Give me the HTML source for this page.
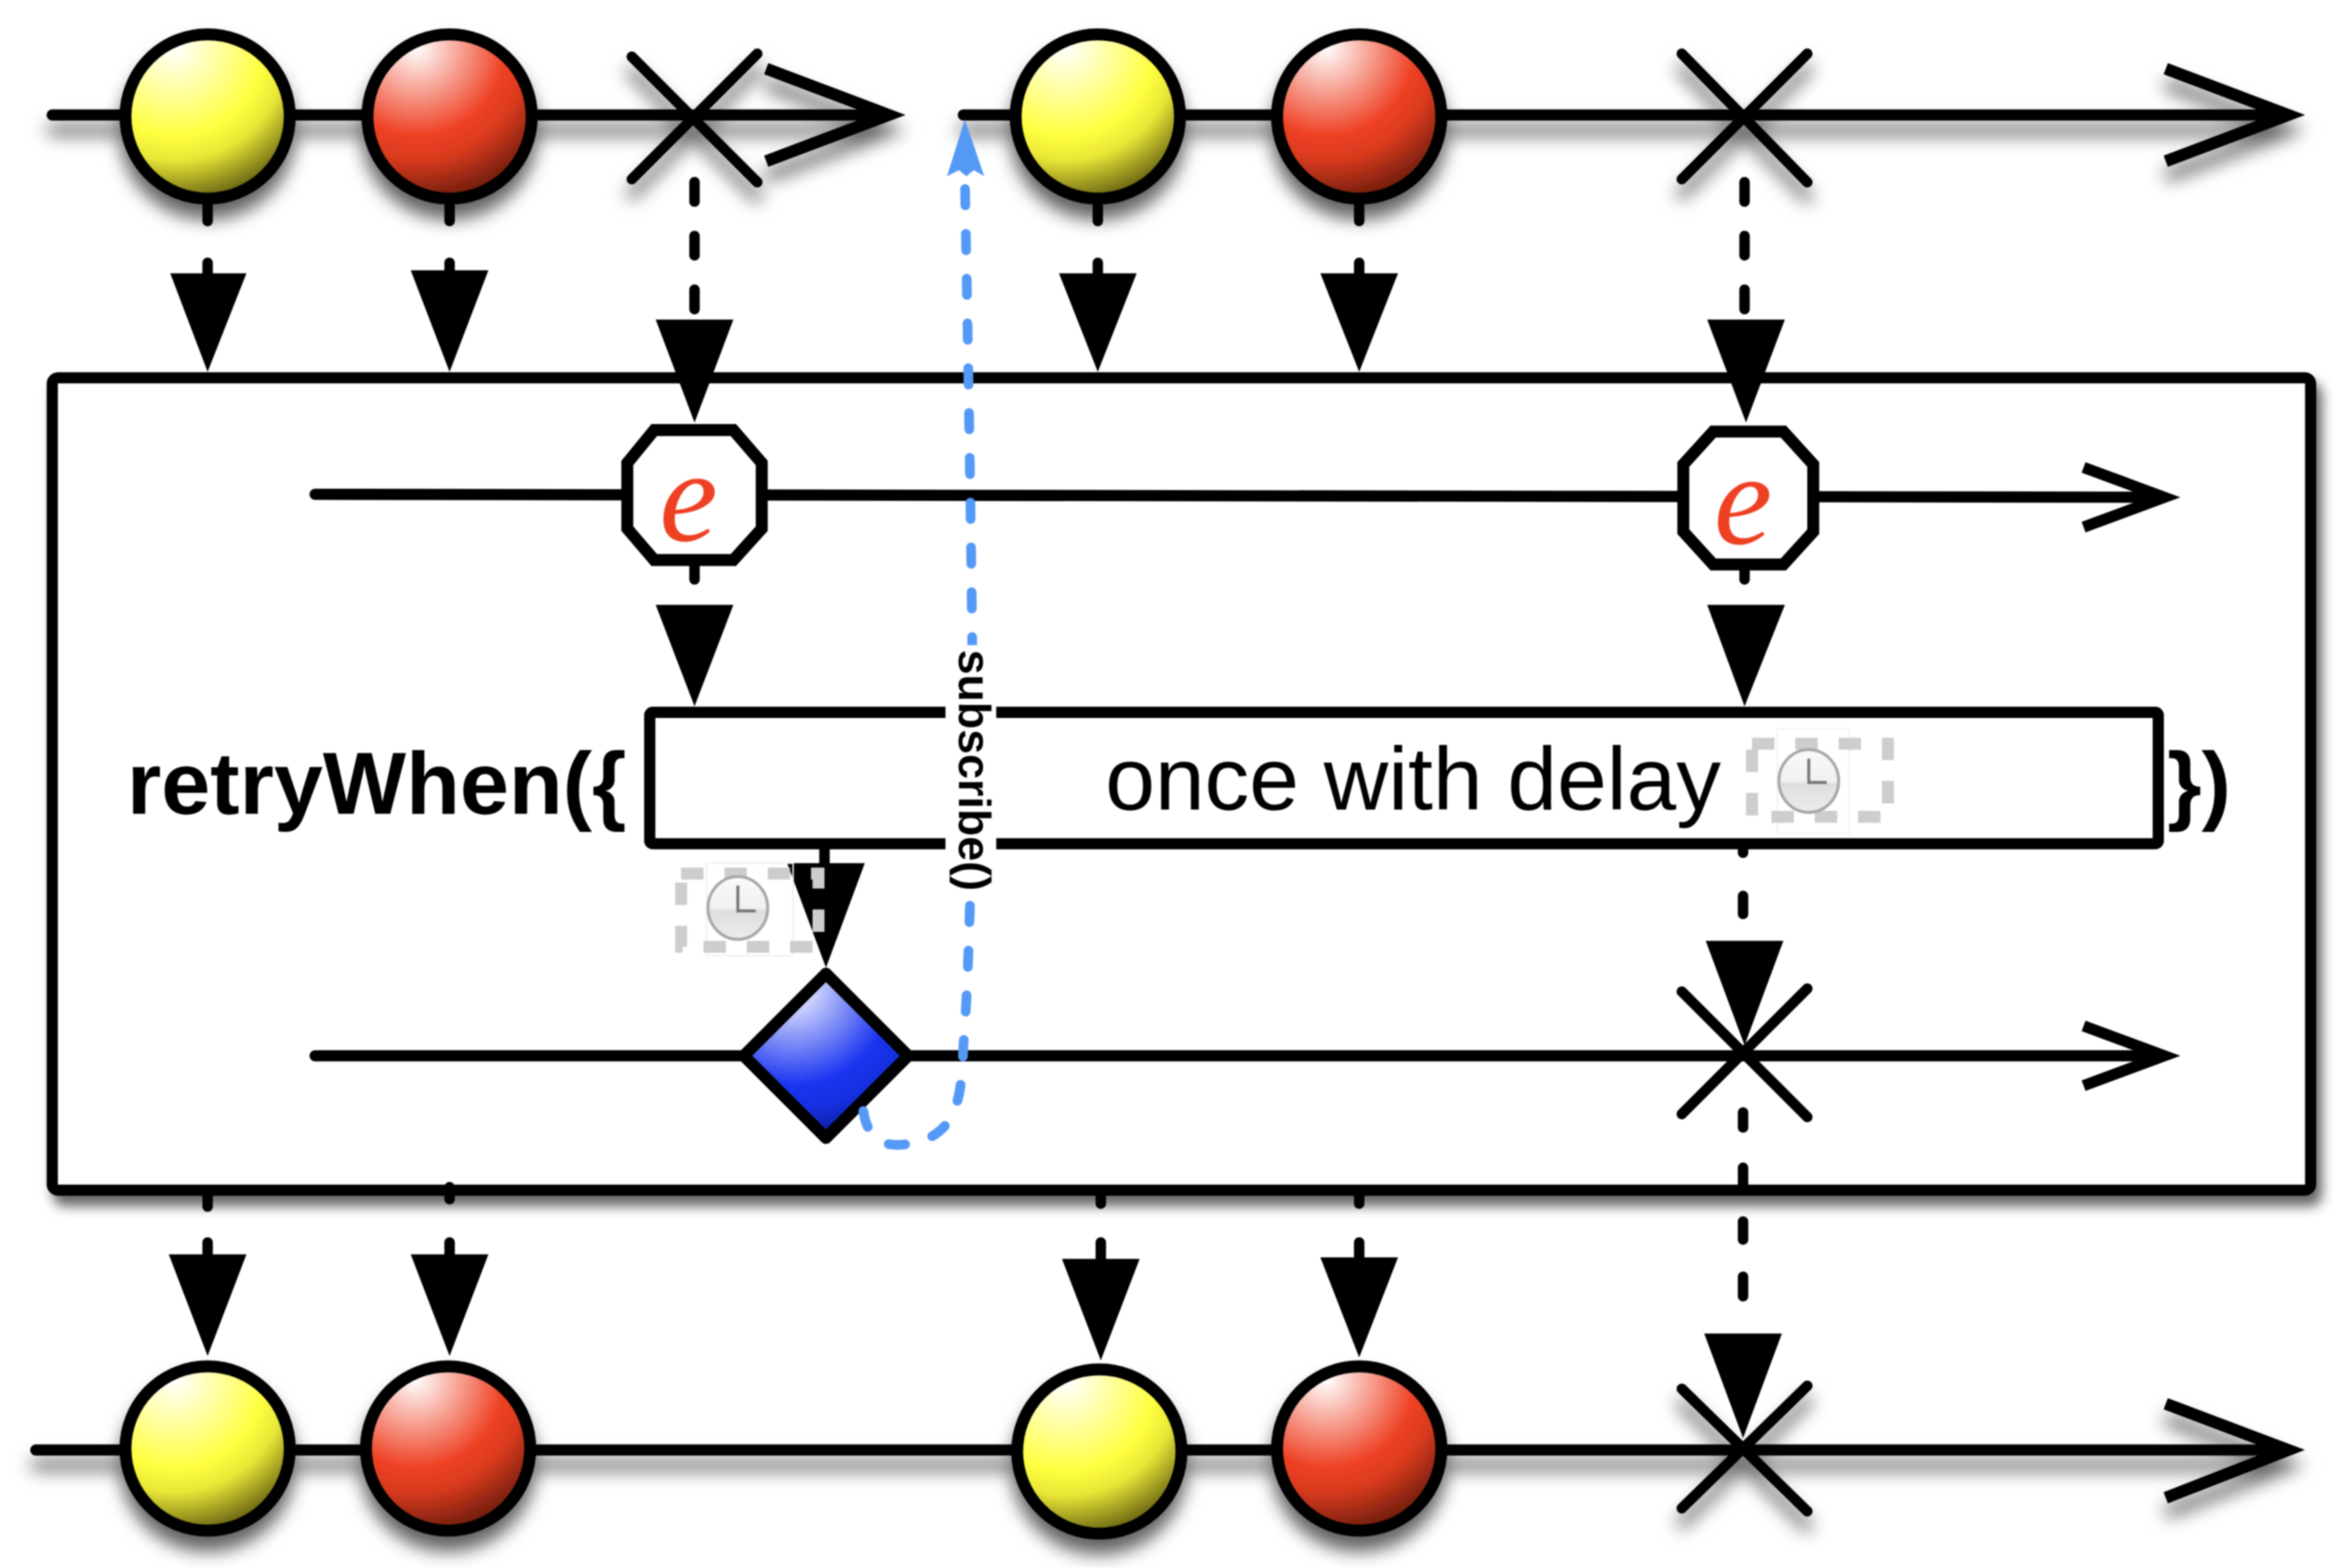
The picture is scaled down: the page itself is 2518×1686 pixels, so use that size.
<!DOCTYPE html>
<html><head><meta charset="utf-8"><title>retryWhen</title>
<style>html,body{margin:0;padding:0;background:#fff;width:2518px;height:1686px;overflow:hidden}
svg{display:block;filter:blur(.7px)}
text{font-family:"Liberation Sans",sans-serif}</style></head><body>
<svg xmlns="http://www.w3.org/2000/svg" width="2518" height="1686" viewBox="0 0 1568 1050" preserveAspectRatio="none">
<defs>
<filter id="sh" x="-20%" y="-40%" width="140%" height="200%"><feDropShadow dx="0" dy="10" stdDeviation="6" flood-color="#000" flood-opacity=".62"/></filter>
<filter id="sb" x="-5%" y="-5%" width="110%" height="110%"><feDropShadow dx="4" dy="7" stdDeviation="4" flood-color="#000" flood-opacity=".6"/></filter>
<radialGradient id="y" cx=".3" cy=".08" r=".98"><stop offset="0" stop-color="#fff"/><stop offset=".55" stop-color="#ffff40"/><stop offset=".7" stop-color="#e8e636"/><stop offset="1" stop-color="#55500e"/></radialGradient>
<radialGradient id="r" cx=".3" cy=".08" r=".98"><stop offset="0" stop-color="#fff"/><stop offset=".55" stop-color="#ee4124"/><stop offset=".7" stop-color="#d83a1e"/><stop offset="1" stop-color="#5e180a"/></radialGradient>
<radialGradient id="b" cx=".3" cy=".08" r="1"><stop offset="0" stop-color="#fff"/><stop offset=".6" stop-color="#1a34f0"/><stop offset=".75" stop-color="#1530e0"/><stop offset="1" stop-color="#061480"/></radialGradient>
<linearGradient id="c" x1="0" y1="0" x2="0" y2="1"><stop offset="0" stop-color="#fafafa"/><stop offset=".5" stop-color="#f0f0f0"/><stop offset=".55" stop-color="#dedede"/><stop offset="1" stop-color="#ececec"/></linearGradient>
</defs>

<!-- box -->
<rect x="35" y="253" width="1512" height="544" rx="4" fill="#fff" stroke="#000" stroke-width="7.5" filter="url(#sb)"/>

<!-- top timelines -->
<g filter="url(#sh)" fill="none" stroke="#000" stroke-width="7.5" stroke-linecap="round">
<path d="M35 77H592"/>
<path d="M513 46L595 77L513 108" stroke-linecap="butt" stroke-width="8"/>
<path d="M423 38L507 122M507 36L423 120" stroke-width="7"/>
<path d="M645 77H1530"/>
<path d="M1450 46L1532 77L1450 108" stroke-linecap="butt" stroke-width="8"/>
<path d="M1126 36L1210 122M1210 36L1126 120" stroke-width="7"/>
<circle cx="139" cy="78" r="55" fill="url(#y)" stroke-width="8"/><circle cx="301" cy="78" r="55" fill="url(#r)" stroke-width="8"/>
<circle cx="735" cy="78" r="55" fill="url(#y)" stroke-width="8"/><circle cx="910" cy="78" r="55" fill="url(#r)" stroke-width="8"/>
</g>

<!-- bottom timeline -->
<g filter="url(#sh)" fill="none" stroke="#000" stroke-width="7.5" stroke-linecap="round">
<path d="M24 971H1530"/>
<path d="M1450 940L1532 971L1450 1003" stroke-linecap="butt" stroke-width="8"/>
<path d="M1126 930L1210 1012M1210 928L1126 1010" stroke-width="7"/>
<circle cx="139" cy="970" r="55" fill="url(#y)" stroke-width="8"/><circle cx="300" cy="970" r="55" fill="url(#r)" stroke-width="8"/>
<circle cx="736" cy="972" r="55" fill="url(#y)" stroke-width="8"/><circle cx="910" cy="970" r="55" fill="url(#r)" stroke-width="8"/>
</g>

<!-- black dashes and triangles -->
<g fill="none" stroke="#000" stroke-width="7" stroke-linecap="round">
<path d="M139 138V148M139 176V186M301 138V148M301 176V186M735 138V148M735 176V186M910 138V148M910 176V186"/>
<path d="M465 122V135M465 158V171M465 194V207M1168 122V135M1168 158V171M1168 194V207"/>
<path d="M465 378V388M1168 378V388"/>
<path d="M552 566V580"/>
<path d="M1167 568V571M1167 600V612M1167 745V755M1167 782V794M1167 818V830M1167 855V868"/>
<path d="M139 800V808M139 832V845M301 795V803M301 832V845M737 798V806M737 832V845M910 798V806M910 832V845"/>
</g>
<g fill="#000">
<path d="M114 183H165L139 249Z"/><path d="M275 181H327L301 249Z"/><path d="M709 183H761L735 249Z"/><path d="M884 183H936L910 249Z"/>
<path d="M439 214H491L465 283Z"/><path d="M1143 214H1195L1169 283Z"/>
<path d="M439 405H491L465 473Z"/><path d="M1143 405H1195L1168 473Z"/>
<path d="M527 578H579L553 648Z"/>
<path d="M1142 630H1194L1168 700Z"/>
<path d="M113 840H165L139 908Z"/><path d="M275 840H327L301 908Z"/><path d="M711 843H763L737 911Z"/><path d="M884 842H936L910 909Z"/><path d="M1141 893H1193L1167 963Z"/>
</g>

<!-- inner timelines -->
<g fill="none" stroke="#000" stroke-width="7.5" stroke-linecap="round">
<path d="M211 331L1445 333"/>
<path d="M1395 313L1449 333L1395 353" stroke-linecap="butt"/>
<path d="M211 707H1445"/>
<path d="M1395 687L1449 707L1395 727" stroke-linecap="butt"/>
<path d="M1126 664L1210 748M1210 662L1126 746" stroke-width="7"/>
</g>

<!-- operator box -->
<rect x="435" y="477" width="1010" height="88" rx="2" fill="#fff" stroke="#000" stroke-width="7.5"/>

<!-- octagons -->
<g fill="#fff" stroke="#000" stroke-width="8">
<path d="M438 288H491L510 310V354L491 375H438L420 354V310Z"/>
<path d="M1147 289H1194L1214 311V356L1194 378H1147L1127 356V311Z"/>
</g>
<g fill="#ee4124" font-style="italic" font-size="88" text-anchor="middle">
<text x="461" y="362" style="font-family:'Liberation Serif',serif">e</text>
<text x="1167" y="364" style="font-family:'Liberation Serif',serif">e</text>
</g>

<!-- diamond -->
<path d="M553 652L608 707L553 762L498 707Z" fill="url(#b)" stroke="#000" stroke-width="8" stroke-linejoin="round"/>

<!-- blue dashed subscribe connector -->
<path d="M578 744C582 770 600 770 622 762C642 752 644 730 645 700C650 640 652 500 651 440C650 340 648 230 646 120" fill="none" stroke="#5599f7" stroke-width="6.5" stroke-linecap="round" stroke-dasharray="11 19"/>
<path d="M646 80L659 118L652 114L647 118L642 114L634 118Z" fill="#5599f7"/>

<!-- subscribe label with white background -->
<rect x="633" y="432" width="34" height="168" fill="#fff"/>
<text transform="translate(642 435) rotate(90)" font-size="30" font-weight="bold" fill="#000">subscribe()</text>

<!-- labels -->
<text x="85" y="545" font-size="59" font-weight="bold" fill="#000">retryWhen({</text>
<text x="1451" y="545" font-size="59" font-weight="bold" fill="#000">})</text>
<text x="740" y="542" font-size="59.8" fill="#000">once with delay</text>

<!-- clocks -->
<g>
<rect x="1190" y="488" width="48" height="70" fill="none" stroke="#f2f2f2" stroke-width="1"/>
<rect x="1173" y="498" width="91" height="49" fill="none" stroke="#cdcdcd" stroke-width="8" stroke-dasharray="15 14"/>
<ellipse cx="1211" cy="523" rx="20" ry="21" fill="url(#c)" stroke="#a8a8a8" stroke-width="2"/>
<path d="M1211 508V524H1223" fill="none" stroke="#777" stroke-width="2"/>
</g>
<g>
<rect x="473" y="578" width="58" height="62" fill="none" stroke="#f0f0f0" stroke-width="1"/>
<rect x="456" y="585" width="92" height="49" fill="none" stroke="#cdcdcd" stroke-width="8" stroke-dasharray="15 14"/>
<ellipse cx="494" cy="608" rx="20" ry="21" fill="url(#c)" stroke="#a8a8a8" stroke-width="2"/>
<path d="M494 593V610H506" fill="none" stroke="#777" stroke-width="2"/>
</g>
</svg>
</body></html>
